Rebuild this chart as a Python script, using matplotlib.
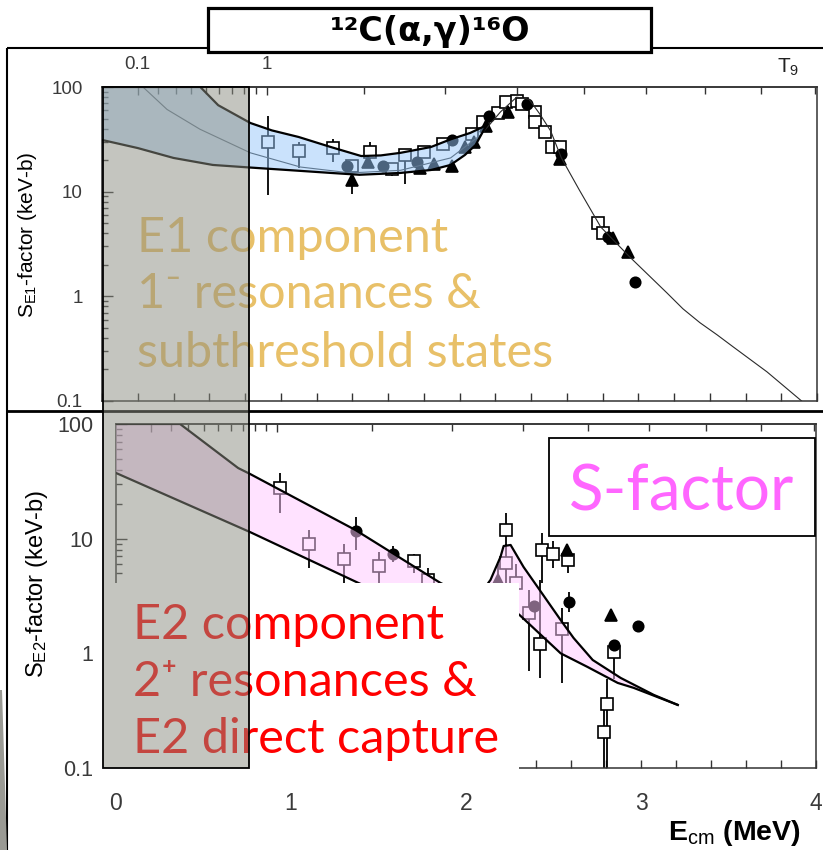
import numpy as np
import matplotlib
matplotlib.use("Agg")
import matplotlib.pyplot as plt
from matplotlib.patches import Rectangle, Polygon
from matplotlib.ticker import LogLocator, NullFormatter, FixedLocator, MultipleLocator

plt.rcParams['font.family'] = ['Liberation Sans', 'DejaVu Sans']
plt.rcParams['mathtext.fontset'] = 'custom'
plt.rcParams['mathtext.rm'] = 'Liberation Sans'
plt.rcParams['mathtext.it'] = 'Liberation Sans:italic'
plt.rcParams['mathtext.bf'] = 'Liberation Sans:bold'

# ---------------- E1 component (upper panel) ----------------
e1_up_E = [0.0, 0.55, 0.65, 0.83, 0.95, 1.10, 1.28, 1.45, 1.56, 1.67, 1.84, 1.95, 2.06, 2.15]
e1_up_S = [100, 100, 67, 45.3, 38.5, 33.3, 26.7, 21.9, 22.2, 23.5, 26.7, 31.6, 36.4, 43]
e1_lo_E = [0.0, 0.20, 0.40, 0.62, 0.83, 1.11, 1.28, 1.44, 1.67, 1.84, 1.95, 2.03, 2.09, 2.15]
e1_lo_S = [31.2, 26.1, 21.0, 18.0, 17.0, 15.8, 15.1, 14.5, 15.1, 16.1, 18.0, 22.4, 27.9, 43]

e1_fit_E = [0.229, 0.364, 0.548, 0.83, 1.11, 1.39, 1.67, 1.95, 2.12, 2.23, 2.32, 2.39,
            2.45, 2.51, 2.57, 2.67, 2.79, 2.95, 3.16, 3.25, 3.345, 3.44, 3.53, 3.72, 3.92]
e1_fit_S = [100, 61, 39.5, 23.5, 17.2, 15.1, 16.0, 21.0, 35, 58, 80, 76,
            55, 38, 21, 10.4, 4.6, 2.4, 1.08, 0.76, 0.56, 0.43, 0.33, 0.19, 0.098]

e1_sq_E = [0.93, 1.10, 1.29, 1.50, 1.40, 1.62, 1.695, 1.80, 1.91, 2.07, 2.13, 2.215, 2.26,
           2.32, 2.35, 2.42, 2.42, 2.48, 2.52, 2.56, 2.775, 2.80]
e1_sq_S = [29.6, 24.2, 25.9, 23.7, 17.4, 16.6, 22.2, 23.7, 28.3, 35.3, 46, 56, 72,
           73, 69, 57.5, 46, 37, 26.5, 27, 5.0, 4.0]
e1_sq_lo = [9.3, 17, 19.4, 20.3, 15.5, 14, 11.9, 21.5, 25.5, 32, 43, 53, 69,
            70, 66, 55, 44, 35, 25, 25.5, 4.7, 3.8]
e1_sq_hi = [52.8, 29.6, 31.6, 29.6, 19.5, 18.5, 25, 26, 31, 38.5, 49, 59, 75,
            76, 72, 60, 48, 39, 28, 28.5, 5.3, 4.2]

e1_ci_E = [1.37, 1.57, 1.76, 1.96, 2.165, 2.38, 2.57, 2.83, 2.98]
e1_ci_S = [17.4, 17.4, 19.4, 31, 52.6, 68.7, 22.7, 3.69, 1.37]

e1_tr_E = [1.40, 1.49, 1.78, 1.86, 1.96, 2.03, 2.08, 2.15, 2.27, 2.56, 2.86, 2.94]
e1_tr_S = [13.0, 19, 17, 18.2, 17.6, 26.5, 29.5, 42, 57.5, 20.3, 3.6, 2.65]
e1_tr_lo = [9.5, 19, 17, 18.2, 17.6, 26.5, 29.5, 42, 57.5, 20.3, 3.6, 2.65]
e1_tr_hi = [14.5, 19, 17, 18.2, 17.6, 26.5, 29.5, 42, 57.5, 20.3, 3.6, 2.65]

# ---------------- E2 component (lower panel) ----------------
e2_up_E = [0.0, 0.366, 0.698, 0.767, 1.368, 1.579, 1.854, 2.00, 2.10, 2.14, 2.197, 2.215,
           2.255, 2.329, 2.409, 2.541, 2.615, 2.724, 2.884, 3.073, 3.21]
e2_up_S = [100, 100, 41.3, 36.6, 11.9, 7.5, 4.11, 3.2, 3.6, 4.37, 6.93, 8.63,
           8.81, 5.66, 3.79, 1.95, 1.36, 0.875, 0.61, 0.434, 0.355]
e2_lo_E = [0.0, 0.767, 1.385, 1.854, 2.14, 2.255, 2.306, 2.541, 2.695, 2.867, 2.958, 3.21]
e2_lo_S = [37.4, 11.4, 4.11, 1.95, 2.3, 2.49, 2.16, 1.0, 0.76, 0.552, 0.5, 0.355]

e2_sq_E = [0.938, 1.10, 1.30, 1.50, 1.70, 1.785, 2.226, 2.23, 2.283, 2.358, 2.42, 2.432,
           2.495, 2.58, 2.546, 2.844, 2.804, 2.787]
e2_sq_S = [27.7, 9.0, 6.66, 5.78, 6.4, 4.36, 11.9, 6.14, 4.11, 2.25, 1.21, 7.94,
           7.36, 6.52, 1.63, 1.03, 0.362, 0.207]
e2_sq_lo = [16.7, 5.5, 4.0, 3.5, 5.0, 3.0, 8.8, 3.5, 1.5, 0.7, 0.61, 4.1,
            5.5, 5.0, 0.55, 0.6, 0.08, 0.08]
e2_sq_hi = [37.4, 12.0, 9.0, 7.6, 7.4, 5.5, 16.7, 9.0, 6.0, 3.6, 4.4, 11.2,
            9.5, 8.0, 2.5, 1.2, 0.6, 0.4]

e2_ci_E = [1.373, 1.585, 2.386, 2.587, 2.845, 2.98]
e2_ci_S = [11.7, 7.36, 2.59, 2.8, 1.18, 1.73]
e2_ci_lo = [8.0, 6.3, 2.59, 2.3, 1.18, 1.73]
e2_ci_hi = [15.5, 8.6, 2.59, 3.4, 1.18, 1.73]

e2_tr_E = [2.18, 2.575, 2.83]
e2_tr_S = [4.36, 7.94, 2.16]
e2_tr_lo = [3.0, 7.94, 2.16]
e2_tr_hi = [6.0, 7.94, 2.16]

# temperature scale (Gamow peak energy) on the top axis
t9_major = [0.1, 1]
t9_major_labels = ['0.1', '1']
t9_minor = [0.2, 0.3, 0.4, 0.5, 0.6, 0.7, 0.8, 0.9, 2, 3, 4, 5, 6, 7, 8, 9]

y_ticks = [0.1, 1, 10, 100]
y_tick_labels = ['0.1', '1', '10', '100']

W, H = 823, 850
fig = plt.figure(figsize=(W / 100, H / 100), dpi=100)
fig.patch.set_facecolor('white')


def frac(x0, y0, x1, y1):
    return [x0 / W, 1 - y1 / H, (x1 - x0) / W, (y1 - y0) / H]


def e_to_t9(e):
    return (np.clip(np.asarray(e, float), 1e-6, None) / 0.922) ** 1.5


def t9_to_e(t):
    return 0.922 * np.clip(np.asarray(t, float), 1e-9, None) ** (2.0 / 3.0)


SPINE = '#333333'


def style_axes(ax, lab_size, ypad, show_x_labels, show_t9_labels):
    ax.set_xlim(0, 4)
    ax.set_yscale('log')
    ax.set_ylim(0.1, 100)
    for s in ax.spines.values():
        s.set_linewidth(1.1)
        s.set_color(SPINE)
    ax.set_yticks(y_ticks, labels=y_tick_labels)
    ax.yaxis.set_minor_locator(LogLocator(10, subs=np.arange(2, 10), numticks=20))
    ax.yaxis.set_minor_formatter(NullFormatter())
    ax.xaxis.set_major_locator(MultipleLocator(1))
    ax.xaxis.set_minor_locator(MultipleLocator(0.2))
    ax.tick_params(which='both', direction='in', top=False, right=False,
                   color=SPINE, width=1.0)
    ax.tick_params(axis='y', which='major', length=8, labelsize=lab_size,
                   labelcolor='#3a3a3a', pad=ypad)
    ax.tick_params(axis='y', which='minor', length=4)
    ax.tick_params(axis='x', which='both', length=6, labelsize=lab_size + 1,
                   labelcolor='#3a3a3a', pad=17, labelbottom=show_x_labels)
    sec = ax.secondary_xaxis('top', functions=(e_to_t9, t9_to_e))
    if show_t9_labels:
        sec.set_xticks(t9_major, labels=t9_major_labels)
    else:
        sec.set_xticks(t9_major, labels=['', ''])
    sec.xaxis.set_minor_locator(FixedLocator(t9_minor))
    sec.xaxis.set_minor_formatter(NullFormatter())
    sec.tick_params(which='both', direction='in', color=SPINE, width=1.0,
                    labelsize=lab_size, labelcolor='#3a3a3a', pad=10)
    sec.tick_params(which='major', length=6)
    sec.tick_params(which='minor', length=5)
    sec.spines['top'].set_linewidth(1.1)
    sec.spines['top'].set_color(SPINE)


def points(ax, E, S, lo, hi, marker, filled, ms):
    E = np.asarray(E); S = np.asarray(S)
    yerr = None
    if lo is not None:
        yerr = [S - np.asarray(lo), np.asarray(hi) - S]
    ax.errorbar(E, S, yerr=yerr, fmt=marker, ms=ms, mfc='black' if filled else 'white',
                mec='black', mew=1.2, ecolor='black', elinewidth=1.3, capsize=0,
                zorder=2, clip_on=True)


# ---------------- upper panel ----------------
ax1 = fig.add_axes(frac(102, 87, 817, 401))
style_axes(ax1, 13.5, 14, False, True)
points(ax1, e1_sq_E, e1_sq_S, e1_sq_lo, e1_sq_hi, 's', False, 8)
points(ax1, e1_ci_E, e1_ci_S, None, None, 'o', True, 7.5)
points(ax1, e1_tr_E, e1_tr_S, e1_tr_lo, e1_tr_hi, '^', True, 8)
ax1.plot(e1_fit_E, e1_fit_S, color='#2a2a2a', lw=0.8, zorder=2.5)
ax1.fill(np.r_[e1_up_E, e1_lo_E[::-1]], np.r_[e1_up_S, e1_lo_S[::-1]],
         color=(0.59, 0.78, 0.98), alpha=0.5, lw=0, zorder=3)
ax1.plot(e1_up_E, e1_up_S, color='black', lw=1.6, zorder=4)
ax1.plot(e1_lo_E, e1_lo_S, color='black', lw=1.6, zorder=4)

# ---------------- lower panel ----------------
ax2 = fig.add_axes(frac(116, 424, 816, 768))
style_axes(ax2, 15.5, 16.5, True, False)
points(ax2, e2_sq_E, e2_sq_S, e2_sq_lo, e2_sq_hi, 's', False, 8)
points(ax2, e2_ci_E, e2_ci_S, e2_ci_lo, e2_ci_hi, 'o', True, 7.5)
points(ax2, e2_tr_E, e2_tr_S, e2_tr_lo, e2_tr_hi, '^', True, 8)
ax2.fill(np.r_[e2_up_E, e2_lo_E[::-1]], np.r_[e2_up_S, e2_lo_S[::-1]],
         color=(1.0, 0.78, 1.0), alpha=0.5, lw=0, zorder=3)
ax2.plot(e2_up_E, e2_up_S, color='black', lw=1.6, zorder=4)
ax2.plot(e2_lo_E, e2_lo_S, color='black', lw=1.6, zorder=4)

# ---------------- slide overlay (pixel coordinates) ----------------
ov = fig.add_axes([0, 0, 1, 1], zorder=10)
ov.set_xlim(0, W)
ov.set_ylim(H, 0)
ov.axis('off')

# frame of the slide
ov.plot([7, 7], [48, 850], color='black', lw=1.5, zorder=1, solid_capstyle='butt')
ov.plot([7, 823], [48, 48], color='black', lw=1.5, zorder=1, solid_capstyle='butt')
ov.plot([7, 823], [411, 411], color='black', lw=2.0, zorder=1, solid_capstyle='butt')
ov.add_patch(Polygon([(0, 690), (2, 690), (7, 850), (0, 850)], closed=True,
                     fc='#9a9a94', ec='none', zorder=1))

# axis titles
ov.text(28, 235, r'S$_{\mathrm{E1}}$-factor (keV-b)', rotation=90, ha='center',
        va='center', fontsize=15, color='black', zorder=3)
ov.text(37, 584, r'S$_{\mathrm{E2}}$-factor (keV-b)', rotation=90, ha='center',
        va='center', fontsize=17, color='black', zorder=3)
ov.text(668, 840, r'E$_{\mathrm{cm}}$ (MeV)', ha='left', va='baseline',
        fontsize=20.5, fontweight='bold', color='black', zorder=3)
ov.text(777, 73, r'T$_9$', ha='left', va='baseline', fontsize=15,
        color='#222222', zorder=3)

# text panel covering the lower-left of the E2 plot
ov.add_patch(Rectangle((105, 583), 414, 200, fc='white', ec='none', zorder=2))

slide_font = ['Lato', 'DejaVu Sans']
gold = '#E8C068'
for txt, yb in [('E1 component', 252), ('1\u207b resonances &', 308),
                ('subthreshold states', 367)]:
    ov.text(137, yb, txt, ha='left', va='baseline', fontsize=35, color=gold,
            family=slide_font, zorder=3)
for txt, yb in [('E2 component', 639), ('2\u207a resonances &', 696),
                ('E2 direct capture', 753)]:
    ov.text(133, yb, txt, ha='left', va='baseline', fontsize=35, color='#FF0000',
            family=slide_font, zorder=3)

# S-factor label box
ov.add_patch(Rectangle((549, 438), 266, 98, fc='white', ec='black', lw=1.3, zorder=3))
ov.text(682, 510, 'S-factor', ha='center', va='baseline', fontsize=46,
        color='#FF66FF', family=slide_font, zorder=4)

# shaded low-energy (astrophysical) region
ov.add_patch(Rectangle((103, 87), 146, 681, fc=(0.545, 0.553, 0.506), alpha=0.5,
                       ec='none', zorder=5))
ov.add_patch(Rectangle((103, 87), 146, 681, fc='none', ec='black', lw=1.3, zorder=5))

# title box
ov.add_patch(Rectangle((208, 8), 443, 44, fc='white', ec='black', lw=2.3, zorder=6))
ov.text(430, 31, '\u00b9\u00b2C(\u03b1,\u03b3)\u00b9\u2076O', ha='center', va='center',
        fontsize=24, fontweight='bold', family=['DejaVu Sans'], color='black', zorder=7)

fig.savefig('out.png', dpi=100, facecolor='white')
